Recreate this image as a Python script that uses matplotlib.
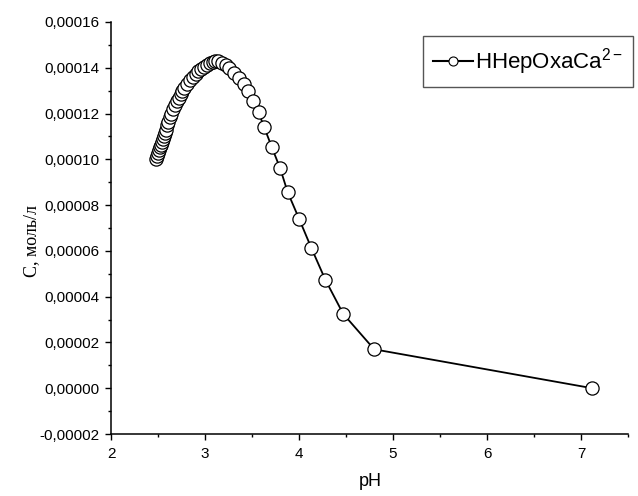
"""pH dependence of the HHepOxaCa(2-) species concentration."""

import matplotlib

matplotlib.use("Agg")
import matplotlib.pyplot as plt
from matplotlib.ticker import FuncFormatter, MultipleLocator

plt.rcParams.update(
    {
        "font.family": ["Liberation Sans", "DejaVu Sans"],
        "mathtext.fontset": "custom",
        "mathtext.rm": "Liberation Sans",
        "mathtext.it": "Liberation Sans",
        "axes.linewidth": 1.1,
    }
)

# values
ph = [
    2.48, 2.49, 2.50, 2.51, 2.52, 2.53, 2.54, 2.55, 2.56, 2.57,
    2.58, 2.60, 2.61, 2.63, 2.64, 2.66, 2.68, 2.70, 2.72, 2.74,
    2.76, 2.78, 2.81, 2.84, 2.87, 2.90, 2.93, 2.96, 2.99, 3.02,
    3.05, 3.08, 3.11, 3.14, 3.18, 3.22, 3.26, 3.31, 3.36, 3.41,
    3.46, 3.51, 3.57, 3.63, 3.71, 3.80, 3.88, 4.00, 4.13, 4.28,
    4.47, 4.80, 7.12,
]
conc_e4 = [
    1.000, 1.013, 1.026, 1.039, 1.052, 1.064, 1.077, 1.089, 1.101, 1.113,
    1.126, 1.150, 1.162, 1.185, 1.196, 1.218, 1.236, 1.253, 1.269, 1.284,
    1.298, 1.311, 1.329, 1.345, 1.359, 1.372, 1.384, 1.395, 1.405, 1.413,
    1.420, 1.425, 1.428, 1.428, 1.423, 1.413, 1.398, 1.378, 1.356, 1.330,
    1.298, 1.256, 1.205, 1.140, 1.054, 0.960, 0.856, 0.741, 0.614, 0.474,
    0.325, 0.170, 0.000,
]
conc = [c * 1e-4 for c in conc_e4]

W, H = 638, 496

fig = plt.figure(figsize=(W / 100, H / 100), dpi=100)
ax = fig.add_axes([111 / W, (H - 434) / H, 517 / W, 412 / H])

(line,) = ax.plot(
    ph,
    conc,
    color="black",
    linewidth=1.3,
    marker="o",
    markersize=9.5,
    markerfacecolor="white",
    markeredgecolor="black",
    markeredgewidth=0.9,
    label=r"HHepOxaCa$^{2-}$",
    clip_on=False,
    zorder=3,
)

ax.set_xlim(2, 7.5)
ax.set_ylim(-0.00002, 0.00016)
ax.xaxis.set_major_locator(MultipleLocator(1))
ax.xaxis.set_minor_locator(MultipleLocator(0.5))
ax.yaxis.set_major_locator(MultipleLocator(0.00002))
ax.yaxis.set_minor_locator(MultipleLocator(0.00001))
ax.yaxis.set_major_formatter(FuncFormatter(lambda v, _: f"{v:.5f}".replace(".", ",")))

for side in ("top", "right"):
    ax.spines[side].set_visible(False)

ax.tick_params(which="major", direction="out", length=4.5, width=1.0, labelsize=11, pad=4)
ax.tick_params(which="minor", direction="out", length=2.5, width=1.0)
ax.tick_params(axis="x", which="major", pad=5)

fig.text(32 / W, (H - 241) / H, "С, моль/л", family=["Liberation Serif", "DejaVu Serif"],
         fontsize=13, rotation=90, ha="center", va="center")
fig.text(370 / W, (H - 482) / H, "pH", fontsize=13, ha="center", va="center")

leg = ax.legend(
    loc="upper left",
    bbox_to_anchor=(423 / W, (H - 36) / H),
    bbox_transform=fig.transFigure,
    borderaxespad=0,
    fontsize=16,
    frameon=True,
    fancybox=False,
    framealpha=1,
    edgecolor="#555555",
    handlelength=1.8,
    handletextpad=0.1,
    borderpad=0.45,
)
leg.get_frame().set_linewidth(1.0)
for h in leg.legend_handles:
    h.set_markersize(6.5)
    h.set_markeredgewidth(0.8)
    h.set_linewidth(1.5)

fig.savefig("out.png", dpi=100)
